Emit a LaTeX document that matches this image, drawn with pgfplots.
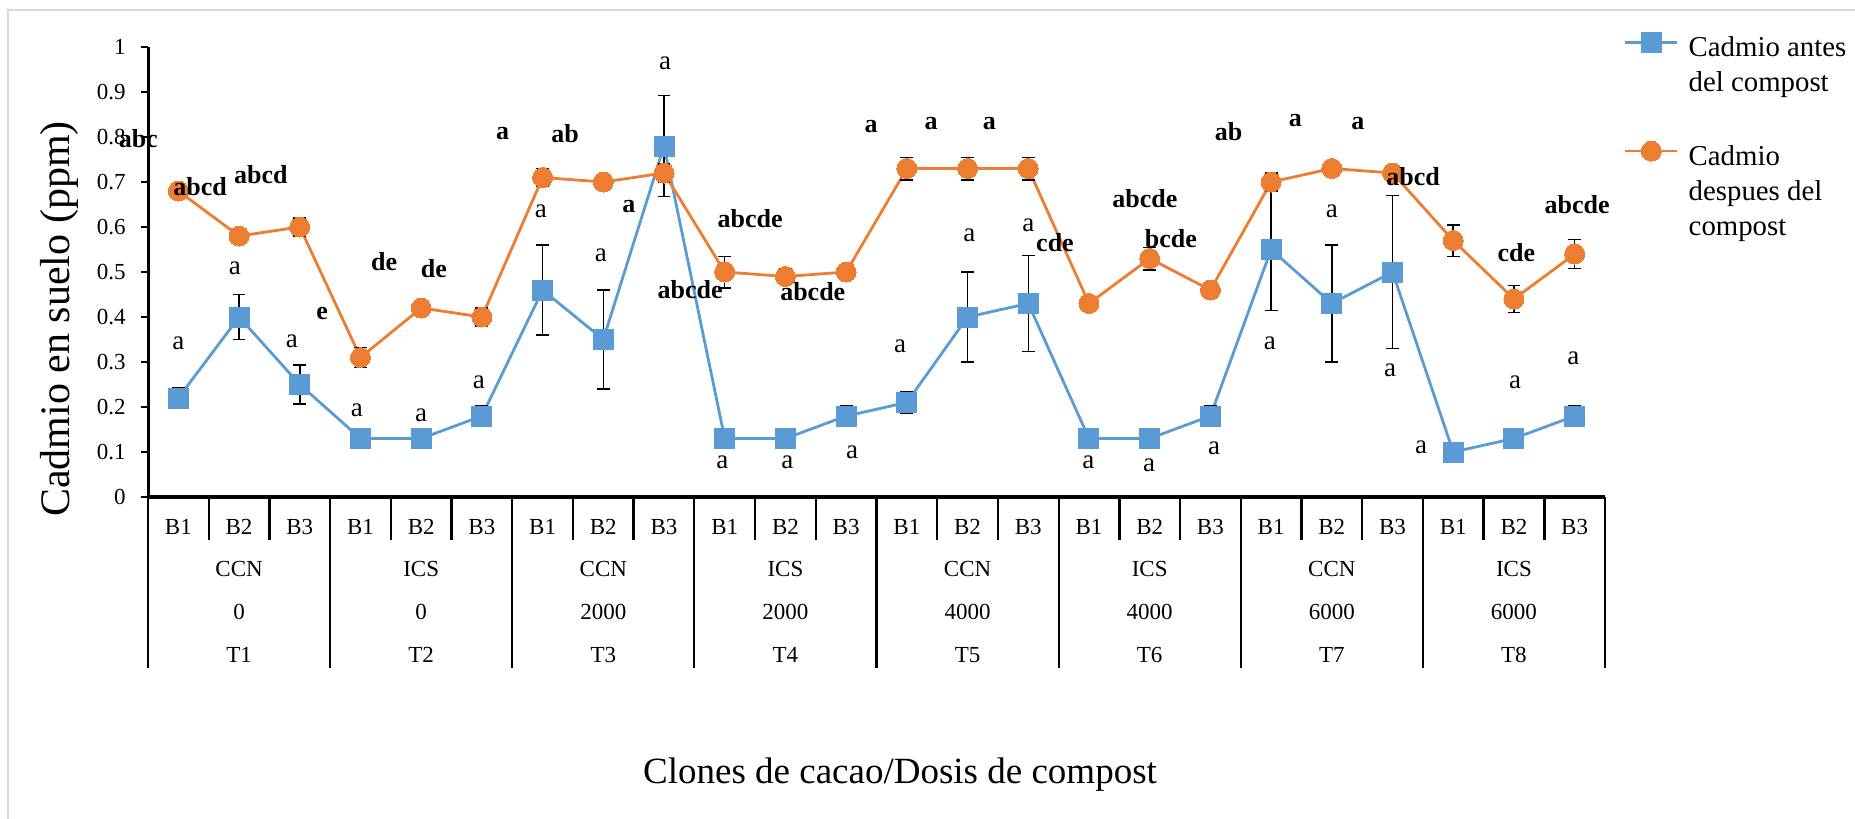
\documentclass[border=0pt]{standalone}
\usepackage{pgfplots}
\pgfplotsset{compat=1.18}
\usepackage{pgfplotstable}
\usepackage{fontspec}
\setmainfont{Liberation Serif}
\definecolor{cblue}{HTML}{5B9BD5}
\definecolor{corange}{HTML}{ED7D31}
\definecolor{framegray}{HTML}{D9D9D9}

\pgfplotstableread{
x a ea d ed
0 0.22 0.022 0.68 0.008
1 0.40 0.050 0.58 0.006
2 0.25 0.043 0.60 0.020
3 0.13 0.005 0.31 0.022
4 0.13 0.005 0.42 0.008
5 0.18 0.023 0.40 0.020
6 0.46 0.100 0.71 0.020
7 0.35 0.110 0.70 0.015
8 0.78 0.112 0.72 0.020
9 0.13 0.005 0.50 0.035
10 0.13 0.005 0.49 0.017
11 0.18 0.023 0.50 0.010
12 0.21 0.023 0.73 0.025
13 0.40 0.100 0.73 0.025
14 0.43 0.107 0.73 0.025
15 0.13 0.005 0.43 0.005
16 0.13 0.005 0.53 0.025
17 0.18 0.023 0.46 0.015
18 0.55 0.135 0.70 0.020
19 0.43 0.130 0.73 0.010
20 0.50 0.170 0.72 0.005
21 0.10 0.005 0.57 0.035
22 0.13 0.005 0.44 0.030
23 0.18 0.023 0.54 0.032
}\datatab

% letters of the "despues" series (bold)
\pgfplotstableread{
x y lab
-0.66 0.797 abc
0.36 0.69 abcd
1.36 0.716 abcd
2.37 0.408 e
3.39 0.523 de
4.21 0.508 de
5.34 0.808 a
6.37 0.808 ab
7.42 0.645 a
8.43 0.46 abcde
9.42 0.618 abcde
10.45 0.456 abcde
11.41 0.824 a
12.4 0.83 a
13.36 0.829 a
14.44 0.566 cde
15.92 0.662 abcde
16.35 0.575 bcde
17.3 0.813 ab
18.4 0.836 a
19.43 0.831 a
20.34 0.711 abcd
22.04 0.544 cde
23.04 0.649 abcde
}\boldlab

% letters of the "antes" series (normal)
\pgfplotstableread{
x y lab
0 0.341 a
0.93 0.508 a
1.87 0.345 a
2.94 0.193 a
4.0 0.182 a
4.95 0.256 a
5.97 0.634 a
6.96 0.538 a
8.02 0.964 a
8.96 0.078 a
10.03 0.078 a
11.1 0.1 a
11.89 0.334 a
13.03 0.582 a
14.0 0.604 a
14.99 0.078 a
15.99 0.071 a
17.06 0.109 a
17.98 0.342 a
19.0 0.634 a
19.96 0.282 a
20.47 0.111 a
22.02 0.256 a
22.98 0.309 a
}\normlab

\tikzset{
  lbl/.style={inner sep=0pt, font=\fontsize{13.5bp}{15bp}\selectfont},
  blbl/.style={inner sep=0pt, font=\fontsize{13bp}{15bp}\selectfont\bfseries},
  grp/.style={anchor=north, yshift=-32bp, align=center, inner sep=0pt, font=\fontsize{11.5bp}{21.5bp}\selectfont},
}

\begin{document}
\begin{tikzpicture}
\path[use as bounding box] (0,0) rectangle (927.5bp,-409.5bp);
\draw[framegray, line width=1bp] (4bp,-409.5bp) -- (4bp,-5bp) -- (927.5bp,-5bp);
\begin{axis}[
  at={(74bp,-248.5bp)}, anchor=south west,
  scale only axis, width=728.5bp, height=225bp,
  xmin=-0.5, xmax=23.5, ymin=0, ymax=1,
  clip=false,
  axis line style={draw=none},
  major tick length=0pt,
  xtick={0,1,2,3,4,5,6,7,8,9,10,11,12,13,14,15,16,17,18,19,20,21,22,23},
  xticklabels={B1,B2,B3,B1,B2,B3,B1,B2,B3,B1,B2,B3,B1,B2,B3,B1,B2,B3,B1,B2,B3,B1,B2,B3},
  ytick={0,0.1,0.2,0.3,0.4,0.5,0.6,0.7,0.8,0.9,1},
  tick label style={font=\fontsize{11.5bp}{13bp}\selectfont},
  /pgf/number format/assume math mode=true,
  yticklabel style={/pgf/number format/fixed, /pgf/number format/precision=1, anchor=east, inner sep=0pt, xshift=-11bp},
  xticklabel style={anchor=center, inner sep=0pt, yshift=-15bp},
  legend style={at={(axis description cs:1.013,1.033)}, anchor=north west, draw=none, fill=none,
    inner sep=0pt, outer sep=0pt, font=\fontsize{14.4bp}{17.5bp}\selectfont,
    cells={anchor=north west, align=left, inner sep=0pt}, row sep=21.5bp, column sep=3bp},
  legend image code/.code={\draw[mark repeat=2,mark phase=2,#1] plot coordinates {(0bp,-5bp)(13bp,-5bp)(26bp,-5bp)};},
]
% axis lines and ticks
\draw[line width=2.2bp] (axis cs:-0.5,0) -- (axis cs:23.5,0);
\draw[line width=1.5bp] (axis cs:-0.5,0) -- (axis cs:-0.5,1);
\pgfplotsinvokeforeach{0,0.1,0.2,0.3,0.4,0.5,0.6,0.7,0.8,0.9,1}{\draw[line width=1bp] (axis cs:-0.5,#1) -- ++(-3.5bp,0pt);}
\pgfplotsinvokeforeach{0.5,1.5,3.5,4.5,6.5,7.5,9.5,10.5,12.5,13.5,15.5,16.5,18.5,19.5,21.5,22.5}{\draw[line width=1.2bp] (axis cs:#1,0) -- ++(0pt,-21.5bp);}
\pgfplotsinvokeforeach{-0.5,2.5,5.5,8.5,11.5,14.5,17.5,20.5,23.5}{\draw[line width=1.1bp] (axis cs:#1,0) -- ++(0pt,-85.5bp);}

\addplot[color=cblue, line width=1.4bp, mark=square*, mark size=5bp, mark options={fill=cblue, draw=cblue, line width=0pt},
  error bars/.cd, y dir=both, y explicit, error mark=-, error bar style={black, line width=0.75bp},
  error mark options={rotate=90, black, mark size=3.2bp, line width=0.75bp}]
  table[x=x, y=a, y error=ea] {\datatab};
\addlegendentry{Cadmio antes\\del compost}
\addplot[color=corange, line width=1.4bp, mark=*, mark size=5bp, mark options={fill=corange, draw=corange, line width=0pt},
  error bars/.cd, y dir=both, y explicit, error mark=-, error bar style={black, line width=0.75bp},
  error mark options={rotate=90, black, mark size=3.2bp, line width=0.75bp}]
  table[x=x, y=d, y error=ed] {\datatab};
\addlegendentry{Cadmio\\despues del\\compost}

% letters as nodes near coords (drawn after the series)
\addplot[forget plot, only marks, mark=none, nodes near coords, point meta=explicit symbolic,
  nodes near coords style={blbl, anchor=center, black}]
  table[x=x, y=y, meta=lab] {\boldlab};
\addplot[forget plot, only marks, mark=none, nodes near coords, point meta=explicit symbolic,
  nodes near coords style={lbl, anchor=center, black}]
  table[x=x, y=y, meta=lab] {\normlab};

% group labels
\node[grp] at (axis cs:1,0) {CCN\\0\\T1};
\node[grp] at (axis cs:4,0) {ICS\\0\\T2};
\node[grp] at (axis cs:7,0) {CCN\\2000\\T3};
\node[grp] at (axis cs:10,0) {ICS\\2000\\T4};
\node[grp] at (axis cs:13,0) {CCN\\4000\\T5};
\node[grp] at (axis cs:16,0) {ICS\\4000\\T6};
\node[grp] at (axis cs:19,0) {CCN\\6000\\T7};
\node[grp] at (axis cs:22,0) {ICS\\6000\\T8};
\end{axis}
\node[rotate=90, font=\fontsize{21bp}{23bp}\selectfont] at (29.5bp,-159.5bp) {Cadmio en suelo (ppm)};
\node[font=\fontsize{18.5bp}{20bp}\selectfont] at (450bp,-387.5bp) {Clones de cacao/Dosis de compost};
\end{tikzpicture}
\end{document}
